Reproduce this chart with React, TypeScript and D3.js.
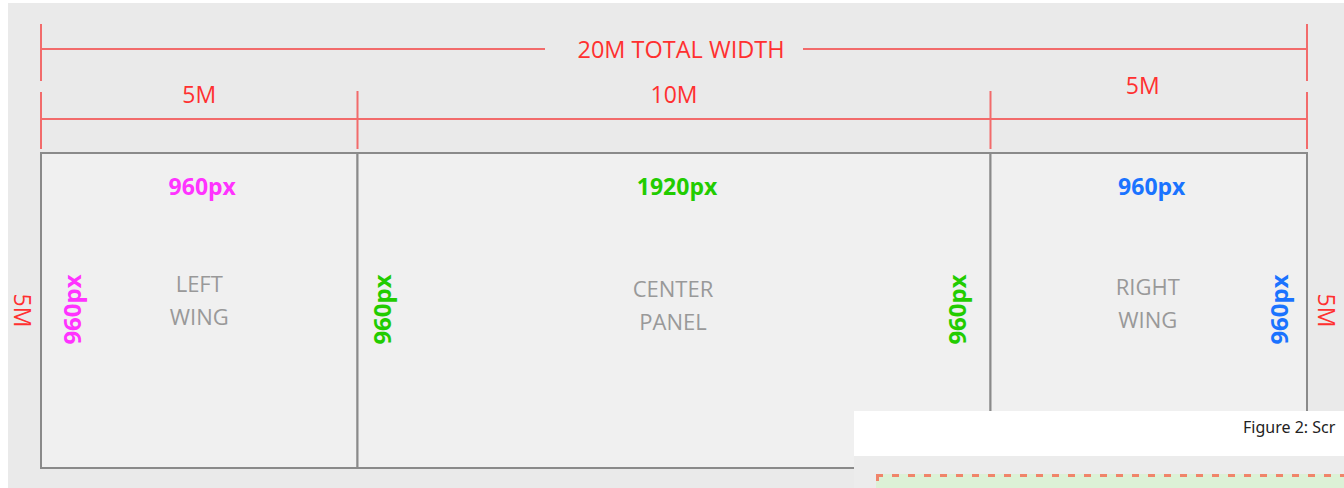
import React, { useEffect } from 'react';
import * as d3 from 'd3';

// screen sections, in metres and in pixels
const sections = ['LEFT WING', 'CENTER PANEL', 'RIGHT WING'];
const widthsM = [5, 10, 5];
const widthsPx = [960, 1920, 960];
const heightM = 5;
const heightPx = 960;
const sectionColors = ['#ff33ff', '#22cc00', '#1a73ff'];
const totalLabel = '20M TOTAL WIDTH';
const captionText = 'Figure 2: Scr';

const W = 1344;
const H = 488;

const RED = '#ff3030';
const RED_LINE = '#f26b6b';
const FONT = "'Open Sans', 'Noto Sans', sans-serif";

const App: React.FC = () => {
    useEffect(() => {
        document.body.style.margin = '0';
    }, []);

    const totalM = d3.sum(widthsM);
    const x = d3.scaleLinear().domain([0, totalM]).range([41, 1307]);
    const y = d3.scaleLinear().domain([0, heightM]).range([153, 468]);

    const starts = [0, ...Array.from(d3.cumsum(widthsM)).slice(0, -1)];
    const edges = [0, ...Array.from(d3.cumsum(widthsM))];
    const centre = (i: number) => x(starts[i] + widthsM[i] / 2);

    const midY = (y(0) + y(heightM)) / 2;
    const nameY = [292, 297, 295];
    const sizeLabelY = [103, 103, 94];
    const sizeLabelDx = [0, 0, -6];

    return (
        <svg width={W} height={H} style={{ display: 'block', fontFamily: FONT }}>
            <rect x={0} y={0} width={W} height={H} fill="#ffffff" />
            <rect x={8} y={3} width={W - 8} height={H - 3} fill="#eaeaea" />

            {/* total width dimension */}
            <g>
                <line x1={x(0)} x2={545} y1={49} y2={49} stroke={RED_LINE} strokeWidth={2} />
                <line x1={803} x2={x(totalM)} y1={49} y2={49} stroke={RED_LINE} strokeWidth={2} />
                <line x1={x(0)} x2={x(0)} y1={24} y2={81} stroke={RED_LINE} strokeWidth={2} />
                <line x1={x(totalM)} x2={x(totalM)} y1={24} y2={81} stroke={RED_LINE} strokeWidth={2} />
                <text x={681} y={58} textAnchor="middle" fill={RED} fontSize={23.5}>
                    {totalLabel}
                </text>
            </g>

            {/* section widths dimension */}
            <g>
                <line x1={x(0)} x2={x(totalM)} y1={119} y2={119} stroke={RED_LINE} strokeWidth={2} />
                {edges.map((e, i) => (
                    <line key={i} x1={x(e)} x2={x(e)} y1={i === 0 || i === edges.length - 1 ? 92 : 91} y2={149}
                        stroke={RED_LINE} strokeWidth={2} />
                ))}
                {widthsM.map((m, i) => (
                    <text key={i} x={centre(i) + sizeLabelDx[i]} y={sizeLabelY[i]}
                        textAnchor="middle" fill={RED} fontSize={23}>
                        {m}M
                    </text>
                ))}
            </g>

            {/* panels */}
            <g>
                {widthsM.map((m, i) => (
                    <rect key={i} x={x(starts[i])} y={y(0)} width={x(starts[i] + m) - x(starts[i])}
                        height={y(heightM) - y(0)} fill="#f0f0f0" stroke="#8a8a8a" strokeWidth={2} />
                ))}
            </g>

            {/* pixel widths */}
            {widthsPx.map((px, i) => (
                <text key={i} x={centre(i) + (i === 2 ? 3 : 3)} y={195}
                    textAnchor="middle" fill={sectionColors[i]} fontSize={23} fontWeight={700}>
                    {px}px
                </text>
            ))}

            {/* pixel heights, rotated */}
            {[
                { xx: 81, c: sectionColors[0] },
                { xx: 391, c: sectionColors[1] },
                { xx: 966, c: sectionColors[1] },
                { xx: 1288, c: sectionColors[2] },
            ].map((d, i) => (
                <text key={i} transform={`translate(${d.xx},${midY - 1}) rotate(-90)`} textAnchor="middle"
                    fill={d.c} fontSize={24} fontWeight={700}>
                    {heightPx}px
                </text>
            ))}

            {/* metre heights, rotated */}
            {[14, 1318].map((xx, i) => (
                <text key={i} transform={`translate(${xx},${midY}) rotate(90)`} textAnchor="middle"
                    fill={RED} fontSize={23}>
                    {heightM}M
                </text>
            ))}

            {/* section names */}
            {sections.map((s, i) => (
                <text key={i} y={nameY[i]} textAnchor="middle" fill="#999999" fontSize={22}>
                    {s.split(' ').map((w, j) => (
                        <tspan key={j} x={centre(i) + (i === 0 ? 0 : -1)} dy={j === 0 ? 0 : 33}>
                            {w}
                        </tspan>
                    ))}
                </text>
            ))}

            {/* overlapping screenshot fragment */}
            <g>
                <rect x={854} y={411} width={W - 854} height={45} fill="#ffffff" />
                <rect x={854} y={456} width={W - 854} height={H - 456} fill="#ececec" />
                <text x={1243} y={433} fill="#222222" fontSize={16} fontFamily="'Noto Sans', sans-serif">
                    {captionText}
                </text>
                <rect x={876} y={474} width={W - 876 + 10} height={40} fill="#dcf1d6" />
                <line x1={876} x2={W} y1={475.5} y2={475.5} stroke="#f0846a" strokeWidth={3} strokeDasharray="7 9" />
                <line x1={877.5} x2={877.5} y1={474} y2={H} stroke="#f0846a" strokeWidth={3} strokeDasharray="7 9" />
            </g>
        </svg>
    );
};

export default App;
